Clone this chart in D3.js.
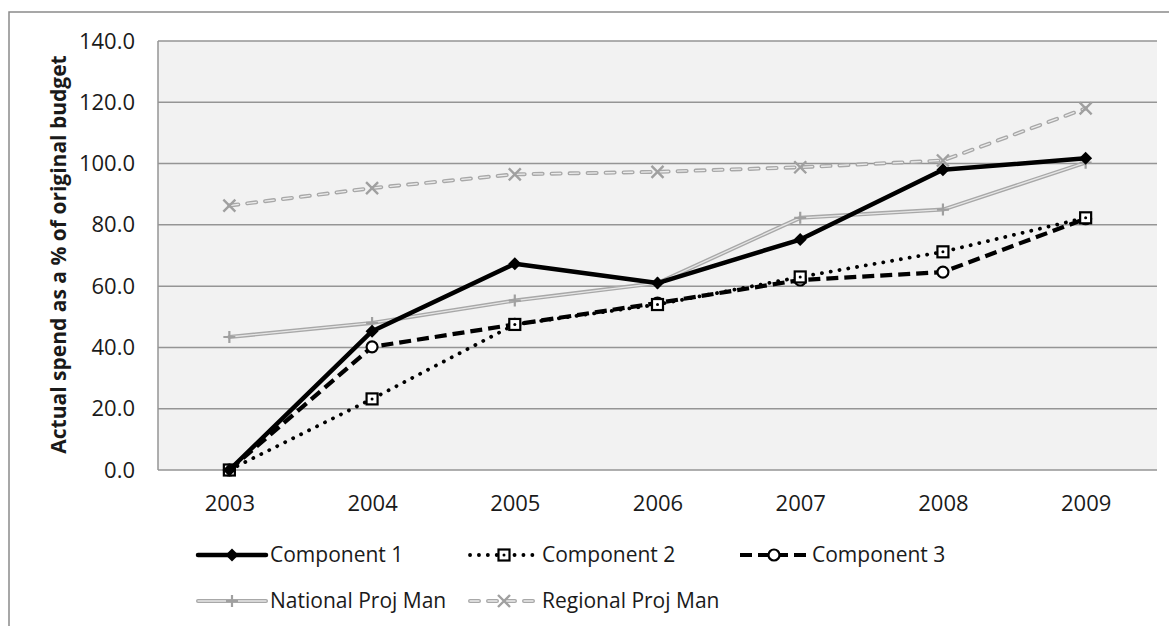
<!DOCTYPE html>
<html>
<head>
<meta charset="utf-8">
<script src="https://cdn.jsdelivr.net/npm/d3@7"></script>
<style>
  html, body { margin: 0; padding: 0; background: #ffffff; }
  svg { display: block; }
  text { font-family: "Open Sans", "Noto Sans", sans-serif; fill: #1a1a1a; }
</style>
</head>
<body>
<svg id="chart" width="1169" height="626"></svg>
<script>
// ---- data ----
const years = ["2003", "2004", "2005", "2006", "2007", "2008", "2009"];
const component1 = [0, 45.3, 67.3, 61.0, 75.2, 98.0, 101.7];
const component2 = [0, 23.2, 47.5, 54.0, 63.0, 71.2, 82.3];
const component3 = [0, 40.2, 47.5, 54.5, 62.0, 64.6, 82.0];
const nationalProjMan = [43.4, 48.0, 55.3, 61.0, 82.3, 85.0, 100.3];
const regionalProjMan = [86.3, 92.0, 96.5, 97.3, 98.8, 101.0, 118.0];
const yTicks = [0, 20, 40, 60, 80, 100, 120, 140];
const seriesNames = ["Component 1", "Component 2", "Component 3", "National  Proj Man", "Regional Proj Man"];
const yTitle = "Actual spend as a % of original budget";

// ---- layout ----
const svg = d3.select("#chart");
const plot = { left: 158, top: 41, right: 1157, bottom: 470 };

// outer chart frame
svg.append("rect")
  .attr("x", 9).attr("y", 12).attr("width", 1200).attr("height", 700)
  .attr("fill", "none").attr("stroke", "#8a8a8a").attr("stroke-width", 1.5);

const x = d3.scalePoint().domain(years).range([plot.left, plot.right]).padding(0.5);
const y = d3.scaleLinear().domain([0, 140]).range([plot.bottom, plot.top]);

// plot background
svg.append("rect")
  .attr("x", plot.left).attr("y", plot.top)
  .attr("width", plot.right - plot.left).attr("height", plot.bottom - plot.top)
  .attr("fill", "#f2f2f2");

// gridlines
svg.append("g").selectAll("line").data(yTicks).join("line")
  .attr("x1", plot.left).attr("x2", plot.right)
  .attr("y1", d => y(d)).attr("y2", d => y(d))
  .attr("stroke", "#959595").attr("stroke-width", 1.5);

// left axis line
svg.append("line")
  .attr("x1", plot.left).attr("x2", plot.left)
  .attr("y1", plot.top).attr("y2", plot.bottom)
  .attr("stroke", "#959595").attr("stroke-width", 1.5);

// y axis labels
const yAxis = d3.axisLeft(y).tickValues(yTicks).tickFormat(d3.format(".1f")).tickSize(0).tickPadding(23);
const gy = svg.append("g").attr("transform", `translate(${plot.left},0)`).call(yAxis);
gy.select(".domain").remove();
gy.selectAll("text").style("font-family", "Open Sans").style("font-size", "22px").attr("fill", "#1a1a1a");

// x axis labels
const xAxis = d3.axisBottom(x).tickSize(0).tickPadding(25);
const gx = svg.append("g").attr("transform", `translate(0,${plot.bottom})`).call(xAxis);
gx.select(".domain").remove();
gx.selectAll("text").style("font-family", "Open Sans").style("font-size", "22px").attr("fill", "#1a1a1a");

// y title
svg.append("text")
  .attr("transform", `translate(66,${(plot.top + plot.bottom) / 2 - 1}) rotate(-90)`)
  .attr("text-anchor", "middle")
  .style("font-size", "21px").style("font-weight", "bold")
  .text(yTitle);

// ---- series styles ----
const line = d3.line().x((d, i) => x(years[i])).y(d => y(d));

const styles = [
  { data: component1, name: seriesNames[0], layers: [{ stroke: "#000", width: 4.5, dash: null, cap: "round" }], marker: "diamond" },
  { data: component2, name: seriesNames[1], layers: [{ stroke: "#000", width: 3.8, dash: "0.1,8.8", cap: "round" }], marker: "square" },
  { data: component3, name: seriesNames[2], layers: [{ stroke: "#000", width: 4.2, dash: "12,6", cap: "butt" }], marker: "circle" },
  { data: nationalProjMan, name: seriesNames[3], layers: [{ stroke: "#a8a8a8", width: 4, dash: null, cap: "round" }, { stroke: "#e6e6e6", width: 1.3, dash: null, cap: "round" }], marker: "plus" },
  { data: regionalProjMan, name: seriesNames[4], layers: [{ stroke: "#a8a8a8", width: 4, dash: "9,9", cap: "round" }, { stroke: "#ececec", width: 1.3, dash: "9,9", cap: "round" }], marker: "cross" }
];

function drawMarker(g, type, cx, cy) {
  if (type === "diamond") {
    const s = 6.5;
    g.append("path").attr("d", `M${cx},${cy - s}L${cx + s},${cy}L${cx},${cy + s}L${cx - s},${cy}Z`).attr("fill", "#000");
  } else if (type === "square") {
    g.append("rect").attr("x", cx - 5.5).attr("y", cy - 5.5).attr("width", 11).attr("height", 11)
      .attr("fill", "#fff").attr("stroke", "#000").attr("stroke-width", 2.2);
    g.append("circle").attr("cx", cx).attr("cy", cy).attr("r", 1.5).attr("fill", "#000");
  } else if (type === "circle") {
    g.append("circle").attr("cx", cx).attr("cy", cy).attr("r", 5.5)
      .attr("fill", "#fff").attr("stroke", "#000").attr("stroke-width", 2.2);
  } else if (type === "plus") {
    const s = 6;
    g.append("path").attr("d", `M${cx - s},${cy}H${cx + s}M${cx},${cy - s}V${cy + s}`)
      .attr("stroke", "#a0a0a0").attr("stroke-width", 2.2).attr("fill", "none");
  } else if (type === "cross") {
    const s = 6;
    g.append("path").attr("d", `M${cx - s},${cy - s}L${cx + s},${cy + s}M${cx - s},${cy + s}L${cx + s},${cy - s}`)
      .attr("stroke", "#a0a0a0").attr("stroke-width", 2.4).attr("fill", "none");
  }
}

// draw order: gray series first, then components
const drawOrder = [3, 4, 2, 1, 0];
const seriesG = svg.append("g");
drawOrder.forEach(k => {
  const s = styles[k];
  const g = seriesG.append("g");
  s.layers.forEach(L => {
    g.append("path").datum(s.data).attr("d", line)
      .attr("fill", "none").attr("stroke", L.stroke).attr("stroke-width", L.width)
      .attr("stroke-dasharray", L.dash).attr("stroke-linecap", L.cap).attr("stroke-linejoin", "round");
  });
  s.data.forEach((v, i) => drawMarker(g, s.marker, x(years[i]), y(v)));
});

// ---- legend ----
const legendItems = [
  { k: 0, x: 198, y: 555 },
  { k: 1, x: 470, y: 555 },
  { k: 2, x: 740, y: 555 },
  { k: 3, x: 198, y: 601 },
  { k: 4, x: 470, y: 601 }
];
const legW = 68;
legendItems.forEach(it => {
  const s = styles[it.k];
  const g = svg.append("g");
  s.layers.forEach(L => {
    g.append("line").attr("x1", it.x).attr("x2", it.x + legW).attr("y1", it.y).attr("y2", it.y)
      .attr("stroke", L.stroke).attr("stroke-width", L.width)
      .attr("stroke-dasharray", L.dash).attr("stroke-linecap", L.cap);
  });
  drawMarker(g, s.marker, it.x + legW / 2, it.y);
  g.append("text").attr("x", it.x + legW + 4).attr("y", it.y).attr("dy", "0.35em")
    .style("font-size", "21px").text(s.name);
});
</script>
</body>
</html>
